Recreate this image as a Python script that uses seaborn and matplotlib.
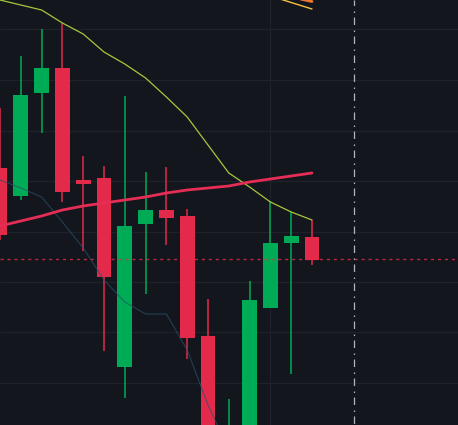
import numpy as np
import pandas as pd
import matplotlib
matplotlib.use("Agg")
import matplotlib.pyplot as plt
import seaborn as sns

# candles, values (price axis runs downward like screen rows)
candle = list(range(16))
opens = [168, 196, 93, 68, 180, 178, 367, 224, 210, 216, 336, 470, 480, 308, 243, 237]
closes = [235, 95, 68, 192, 184, 277, 226, 210, 218, 338, 470, 440, 300, 243, 236, 260]
highs = [108, 56, 29, 23, 156, 166, 96, 172, 167, 209, 299, 399, 281, 201, 212, 220]
lows = [240, 200, 133, 202, 251, 351, 398, 294, 245, 359, 480, 480, 480, 308, 374, 265]

# moving averages
ma_lime = [0, 5, 10, 23, 34, 52, 64, 78, 97, 117, 145, 173, 187, 202, 212, 220]
ma_red = [226, 221, 216, 210, 206, 203, 200, 197, 193, 190, 188, 186, 182, 179, 176, 173]
ma_blue = [180, 188, 197, 222, 248, 280, 302, 314, 314, 350, 405, 450]
ma_yellow = [-4, 2.5, 9]
ma_orange = [-8, -3, 1.5]

grid_prices = [29, 80, 131, 181, 232, 282, 332, 383]
last_price = 258.8
now_x = 17
cursor_candle = 13

BG = "#14161d"
GRID = "#1f222a"
GREEN = "#00ab55"
RED = "#e32a4b"

sns.set_theme(style="dark", rc={"axes.facecolor": BG, "figure.facecolor": BG})

fig = plt.figure(figsize=(4.58, 4.25), dpi=100)
ax = fig.add_axes([0, 0, 1, 1])

for p in grid_prices:
    ax.axhline(p, color=GRID, lw=0.9, zorder=1)
ax.axvline(cursor_candle, color=GRID, lw=0.9, zorder=1)

df = pd.DataFrame({"candle": candle, "open": opens, "close": closes, "high": highs, "low": lows})
df["color"] = np.where(df["close"] < df["open"], GREEN, RED)

ax.vlines(df["candle"], df["high"], df["low"], colors=df["color"], lw=1.1, zorder=2)
ax.bar(df["candle"], df["close"] - df["open"], bottom=df["open"], width=0.72,
       color=df["color"], lw=0, zorder=3)

sns.lineplot(x=candle[:len(ma_blue)], y=ma_blue, color="#27506a", lw=0.8, alpha=0.7, ax=ax, zorder=4)
sns.lineplot(x=candle, y=ma_lime, color="#a4c83c", lw=0.9, ax=ax, zorder=4)
sns.lineplot(x=candle, y=ma_red, color="#e52d55", lw=2.0, ax=ax, zorder=4)
sns.lineplot(x=candle[13:], y=ma_orange, color="#f2762e", lw=2.0, ax=ax, zorder=4)
sns.lineplot(x=candle[13:], y=ma_yellow, color="#f5c242", lw=1.0, ax=ax, zorder=4)

ax.axhline(last_price, color=RED, lw=1.0, ls=(0, (2.2, 2.8)), alpha=0.8, zorder=5)
ax.axvline(now_x, color="#b2b5be", lw=0.9, ls=(14, (6, 3.6, 1.2, 4.4)), zorder=5)

ax.set_xlim(0, 458 / 20.8)
ax.set_ylim(425, 0)
ax.axis("off")

fig.savefig("out.png", dpi=100, facecolor=BG)
